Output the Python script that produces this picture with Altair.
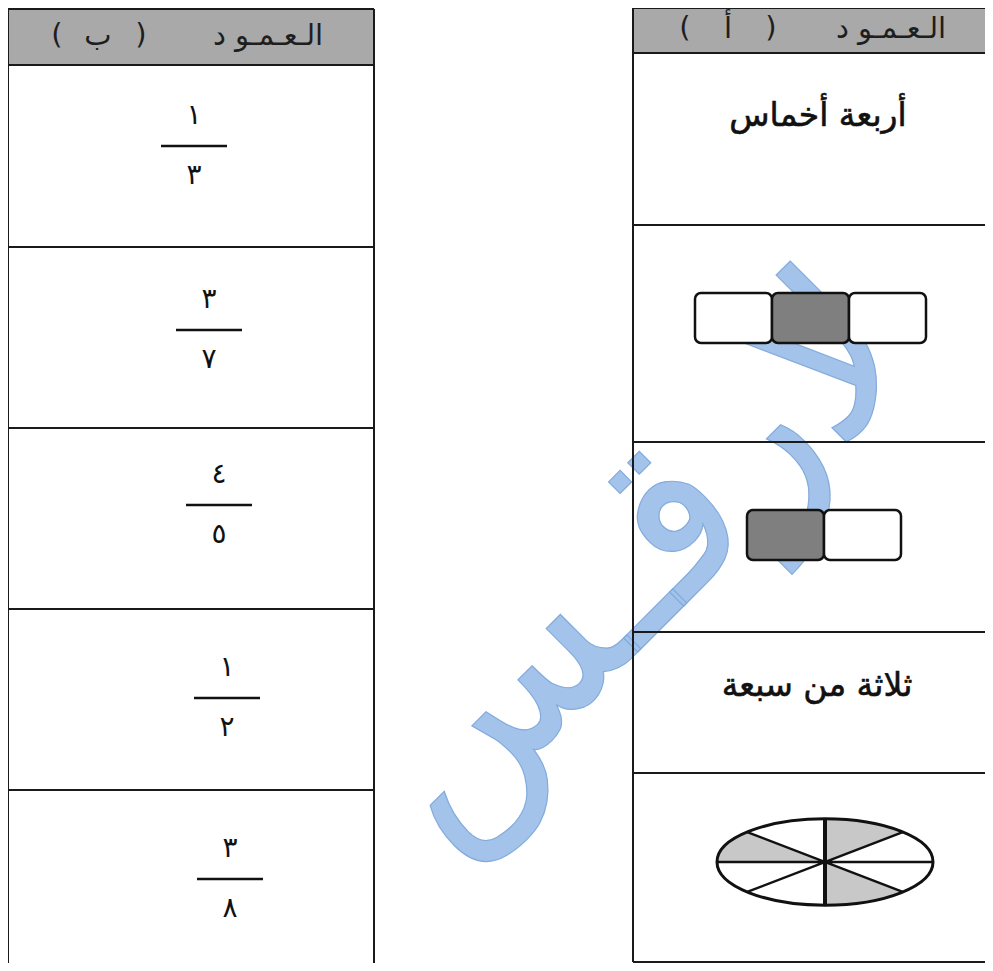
import altair as alt
import pandas as pd

# ---------------- content (read from the worksheet) ----------------
header_word = "الـعـمـو د"
col_a_tag = ["(", "أ", ")"]
col_b_tag = ["(", "ب", ")"]
numerators = ["١", "٣", "٤", "١", "٣"]
denominators = ["٣", "٧", "٥", "٢", "٨"]
col_a_texts = ["أربعة أخماس", "ثلاثة من سبعة"]
bars_three = [0, 1, 0]          # 1 = shaded part
bars_two = [1, 0]
ellipse_shaded_sectors = [0, 3, 6]   # 3 of 8 parts shaded
watermark_text = "لارقـس"

# ---------------- layout (page pixels) ----------------
W, H = 977, 955
X0, Y0 = 8, 8
XS = alt.Scale(domain=[X0, X0 + W], range=[0, W], nice=False, zero=False)
YS = alt.Scale(domain=[Y0, Y0 + H], range=[0, H], nice=False, zero=False)

left_x = [8, 374]
left_rows = [9, 65, 247, 428, 609, 790, 968]
right_x = [633, 985]
right_rows = [8, 53, 225, 442, 632, 773, 962]

frac_line_y = [146, 330, 505, 698, 879]
frac_cx = [194, 209, 219, 227, 230]
frac_half = 33
frac_gap = 30

def enc(ch, x="x", y="y"):
    return ch.encode(
        x=alt.X(f"{x}:Q", scale=XS, axis=None),
        y=alt.Y(f"{y}:Q", scale=YS, axis=None),
    )

# watermark
wm = pd.DataFrame({"x": [635], "y": [560], "t": [watermark_text]})
wm_layer = enc(alt.Chart(wm).mark_text(
    angle=315, font="DejaVu Sans", fontSize=222, color="#93b9e8",
    stroke="#6e9dd6", strokeWidth=1.2,
    opacity=0.85, align="center", baseline="middle")).encode(text="t:N")

# headers
hdr = pd.DataFrame({
    "x": [left_x[0], right_x[0]], "x2": [left_x[1], right_x[1]],
    "y": [left_rows[0], right_rows[0]], "y2": [left_rows[1], right_rows[1]],
})
hdr_layer = alt.Chart(hdr).mark_rect(fill="#a9a9a9").encode(
    x=alt.X("x:Q", scale=XS, axis=None), x2="x2:Q",
    y=alt.Y("y:Q", scale=YS, axis=None), y2="y2:Q")

hdr_txt = pd.DataFrame({
    "x": [268, 57, 98, 141, 891, 685, 728, 771],
    "y": [36, 35, 36, 35, 29, 28, 29, 28],
    "t": [header_word] + col_b_tag + [header_word] + col_a_tag,
})
hdr_txt_layer = enc(alt.Chart(hdr_txt).mark_text(
    font="DejaVu Sans", fontSize=29, color="#1e1e1e",
    align="center", baseline="middle")).encode(text="t:N")

# grid lines
segs = []
for yy in left_rows[:-1]:
    segs.append((left_x[0], left_x[1], yy, yy))
for xx in left_x:
    segs.append((xx, xx, left_rows[0], left_rows[-1]))
for yy in right_rows:
    segs.append((right_x[0], right_x[1], yy, yy))
segs.append((right_x[0], right_x[0], right_rows[0], right_rows[-1]))
grid = pd.DataFrame(segs, columns=["x", "x2", "y", "y2"])
grid_layer = alt.Chart(grid).mark_rule(color="#1a1a1a", strokeWidth=2).encode(
    x=alt.X("x:Q", scale=XS, axis=None), x2="x2:Q",
    y=alt.Y("y:Q", scale=YS, axis=None), y2="y2:Q")

# fractions (column B)
fl = pd.DataFrame({
    "x": [c - frac_half for c in frac_cx],
    "x2": [c + frac_half for c in frac_cx],
    "y": frac_line_y,
})
frac_line_layer = alt.Chart(fl).mark_rule(color="#111", strokeWidth=2.5).encode(
    x=alt.X("x:Q", scale=XS, axis=None), x2="x2:Q",
    y=alt.Y("y:Q", scale=YS, axis=None))

ft = pd.DataFrame({
    "x": frac_cx + frac_cx,
    "y": [v - frac_gap for v in frac_line_y] + [v + frac_gap for v in frac_line_y],
    "t": numerators + denominators,
})
frac_txt_layer = enc(alt.Chart(ft).mark_text(
    font="DejaVu Sans", fontSize=28, color="#111",
    align="center", baseline="middle")).encode(text="t:N")

# column A text cells
at = pd.DataFrame({"x": [818, 817], "y": [116, 686], "t": col_a_texts})
a_txt_layer = enc(alt.Chart(at).mark_text(
    font="DejaVu Sans", fontSize=33, color="#111",
    stroke="#111", strokeWidth=0.6,
    align="center", baseline="middle")).encode(text="t:N")

# column A bar models
box_w = 77
rows = []
for i, s in enumerate(bars_three):
    rows.append({"x": 695 + i * box_w, "x2": 695 + (i + 1) * box_w,
                 "y": 293, "y2": 343, "fill": "#7f7f7f" if s else "#ffffff"})
for i, s in enumerate(bars_two):
    rows.append({"x": 747 + i * box_w, "x2": 747 + (i + 1) * box_w,
                 "y": 510, "y2": 560, "fill": "#7f7f7f" if s else "#ffffff"})
boxes = pd.DataFrame(rows)
box_layer = alt.Chart(boxes).mark_rect(
    cornerRadius=6, stroke="#111", strokeWidth=2.5).encode(
    x=alt.X("x:Q", scale=XS, axis=None), x2="x2:Q",
    y=alt.Y("y:Q", scale=YS, axis=None), y2="y2:Q",
    fill=alt.Fill("fill:N", scale=None))

# ellipse cut into 8 parts
B = 0.4
dirs = [(0, -B), (0.72, -0.277), (1, 0), (0.72, 0.277),
        (0, B), (-0.72, 0.277), (-1, 0), (-0.72, -0.277)]
def pt(p):
    return f"{p[0]},{p[1]}"
sector_path = " ".join(
    f"M0,0 L{pt(dirs[k])} A1,{B} 0 0,1 {pt(dirs[(k + 1) % 8])} Z"
    for k in ellipse_shaded_sectors)
outline_path = f"M-1,0 A1,{B} 0 1,0 1,0 A1,{B} 0 1,0 -1,0 Z"
spokes_path = "M-1,0 L1,0 M-0.72,-0.277 L0.72,0.277 M0.72,-0.277 L-0.72,0.277"
vert_path = f"M0,-{B} L0,{B}"
ell = pd.DataFrame({"x": [825], "y": [862]})
SIZE = 216 ** 2
ell_fill = enc(alt.Chart(ell).mark_point(
    shape=sector_path, size=SIZE, filled=True, fill="#c8c8c8",
    strokeWidth=0, opacity=1))
ell_spokes = enc(alt.Chart(ell).mark_point(
    shape=spokes_path, size=SIZE, filled=False, stroke="#111",
    strokeWidth=2.5, opacity=1))
ell_vert = enc(alt.Chart(ell).mark_point(
    shape=vert_path, size=SIZE, filled=False, stroke="#111",
    strokeWidth=4, opacity=1))
ell_out = enc(alt.Chart(ell).mark_point(
    shape=outline_path, size=SIZE, filled=False, stroke="#111",
    strokeWidth=3, opacity=1))

chart = alt.layer(
    hdr_layer, wm_layer, grid_layer, hdr_txt_layer, frac_line_layer,
    frac_txt_layer, a_txt_layer, box_layer,
    ell_fill, ell_spokes, ell_vert, ell_out,
).properties(
    width=W, height=H, padding=0, autosize="none", background="white"
).configure_view(stroke=None)

chart.save("out.html", embed_options={"renderer": "svg", "actions": False})
